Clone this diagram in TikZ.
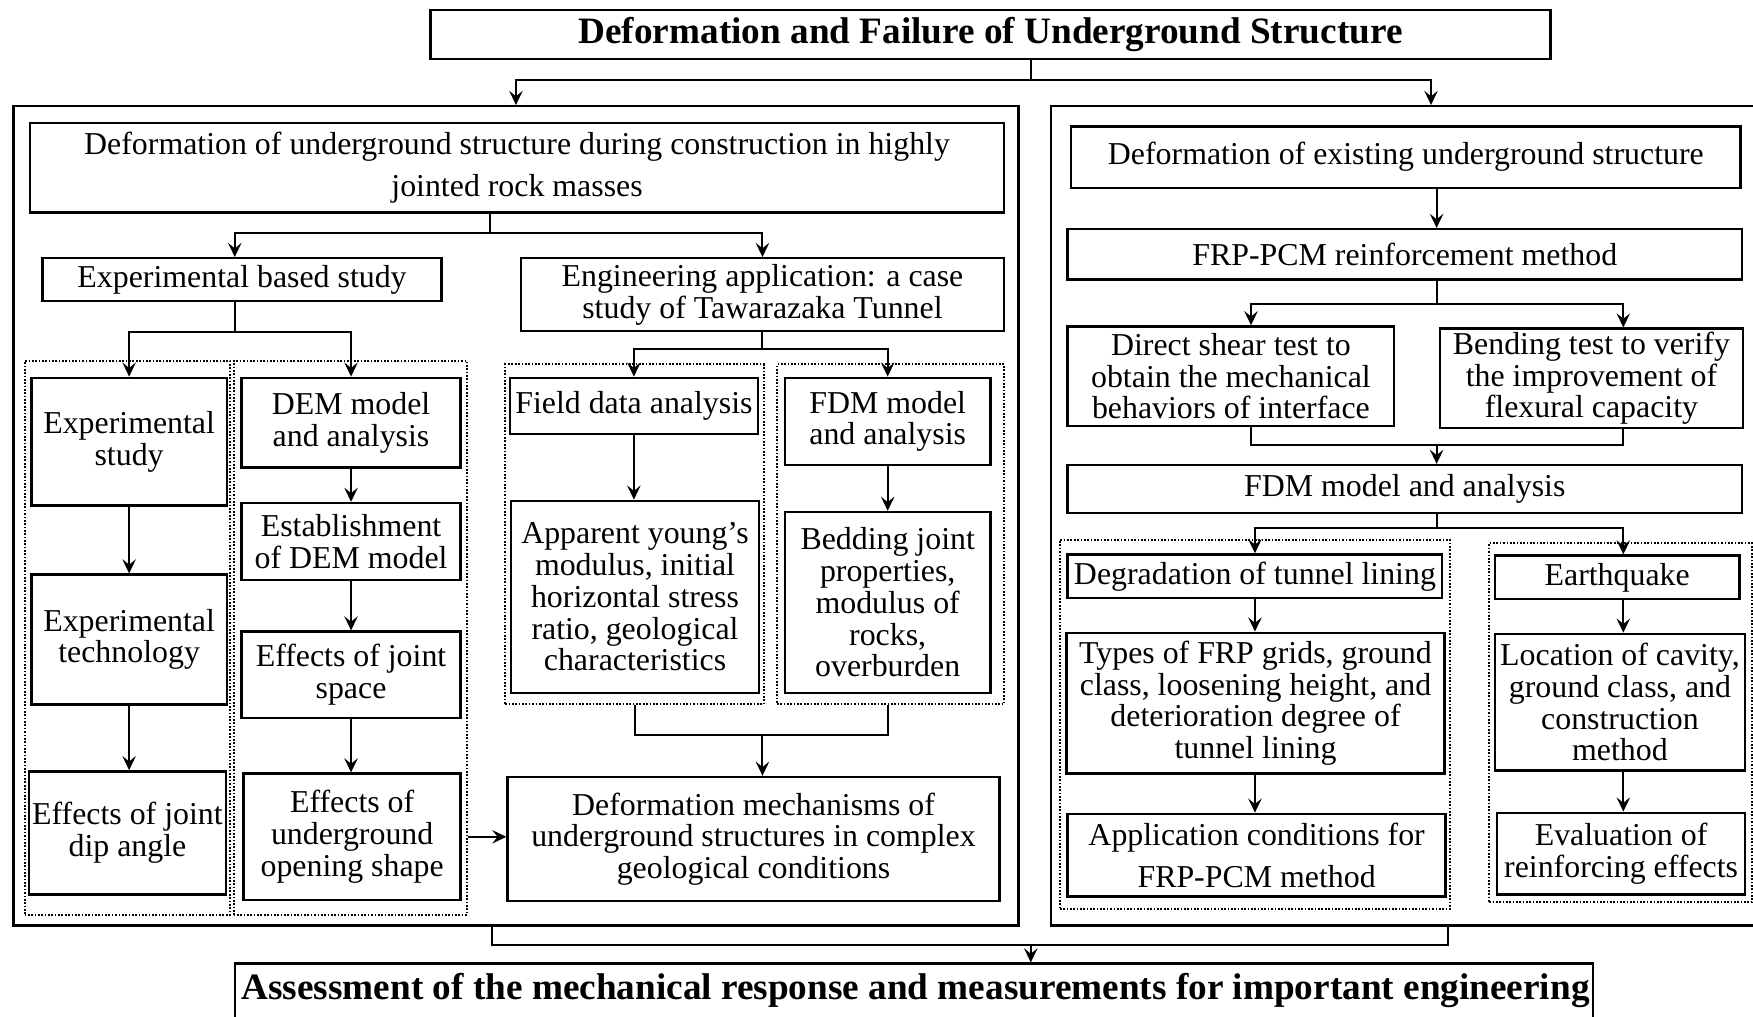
\documentclass[tikz,border=0pt]{standalone}
\usepackage{fontspec}
\setmainfont{Liberation Serif}
\usetikzlibrary{arrows.meta}

\newcommand{\bodyfont}{\fontsize{14.25}{14.2}\selectfont}
\newcommand{\loosefont}{\fontsize{14.25}{19}\selectfont}
\newcommand{\headfont}{\fontsize{16.65}{19}\selectfont\bfseries}

\tikzset{
  wh/.style 2 args={minimum width=#1*0.5pt, minimum height=#2*0.5pt},
  box/.style={draw, line width=1.1pt, inner sep=0pt, align=center, font=\bodyfont},
  headbox/.style={box, font=\headfont},
  panel/.style={draw, line width=1.1pt, inner sep=0pt},
  dotgroup/.style={draw, line width=0.9pt, dash pattern=on 0.75pt off 0.75pt, inner sep=0pt},
  link/.style={line width=0.9pt},
  flow/.style={link, -{Stealth[length=6.3pt,width=6pt,inset=2.4pt]}},
}

\begin{document}
\begin{tikzpicture}[x=0.5pt,y=0.5pt,yscale=-1]
    \useasboundingbox (0,0) rectangle (1568,909);

    % Title and the two panels
    \node[headbox, wh={1002}{44}] (title) at (886,31) {Deformation and Failure of Underground Structure};
    \node[panel, wh={899}{733}] (leftp) at (461.5,461.5) {};
    \node[panel, wh={680}{733}] (rightp) at (1280,461.5) {};

    % Left panel
    \node[box, font=\loosefont, wh={871}{80}] (dcon) at (462.5,150) {Deformation of underground structure during construction in highly\\jointed rock masses};
    \node[box, wh={357}{38}] (expb) at (216.5,250) {Experimental based study};
    \node[box, wh={432}{65}] (engapp) at (682,263.5) {Engineering application: a case\\study of Tawarazaka Tunnel};

    % dotted groups
    \node[dotgroup, wh={184}{495}] (grp1) at (114,570.5) {};
    \node[dotgroup, wh={209}{495}] (grp2) at (313.5,570.5) {};
    \node[dotgroup, wh={231}{304}] (grp3) at (567.5,478) {};
    \node[dotgroup, wh={203}{304}] (grp4) at (796.5,478) {};

    \node[box, wh={175}{114}] (expst) at (115.5,395) {Experimental\\study};
    \node[box, wh={175}{116}] (exptec) at (115.5,572) {Experimental\\technology};
    \node[box, wh={176}{110}] (dipang) at (114,745) {Effects of joint\\dip angle};

    \node[box, wh={196}{80}] (demmod) at (314,378) {DEM model\\and analysis};
    \node[box, wh={196}{69}] (demest) at (314,484.5) {Establishment\\of DEM model};
    \node[box, wh={196}{77}] (jspace) at (314,603.5) {Effects of joint\\space};
    \node[box, wh={194}{113}] (opening) at (315,748.5) {Effects of\\underground\\opening shape};

    \node[box, wh={222}{50}] (field) at (567,363) {Field data analysis};
    \node[box, wh={222}{172}] (appar) at (568,534) {Apparent young’s\\modulus, initial\\horizontal stress\\ratio, geological\\characteristics};
    \node[box, wh={184}{78}] (fdml) at (794,377) {FDM model\\and analysis};
    \node[box, wh={184}{162}] (bedd) at (794,539) {Bedding joint\\properties,\\modulus of\\rocks,\\overburden};
    \node[box, wh={440}{111}] (defmech) at (674,750.5) {Deformation mechanisms of\\underground structures in complex\\geological conditions};

    % Right panel
    \node[box, wh={599}{55}] (dexist) at (1257.5,140.5) {Deformation of existing underground structure};
    \node[box, wh={603}{45}] (frp) at (1256.5,227.5) {FRP-PCM reinforcement method};
    \node[box, wh={292}{89}] (dshear) at (1101,336.5) {Direct shear test to\\obtain the mechanical\\behaviors of interface};
    \node[box, wh={271}{89}] (bend) at (1423.5,338.5) {Bending test to verify\\the improvement of\\flexural capacity};
    \node[box, wh={603}{43}] (fdmr) at (1256.5,437.5) {FDM model and analysis};

    \node[dotgroup, wh={349}{330}] (grp5) at (1122.5,648) {};
    \node[dotgroup, wh={235}{321}] (grp6) at (1449.5,646.5) {};

    \node[box, wh={335}{39}] (degr) at (1122.5,515.5) {Degradation of tunnel lining};
    \node[box, wh={338}{126}] (types) at (1123,629) {Types of FRP grids, ground\\class, loosening height, and\\deterioration degree of\\tunnel lining};
    \node[box, font=\loosefont, wh={338}{74}] (appcon) at (1124,765) {Application conditions for\\FRP-PCM method};
    \node[box, wh={219}{39}] (quake) at (1446.5,516.5) {Earthquake};
    \node[box, wh={224}{122}] (locat) at (1449,628) {Location of cavity,\\ground class, and\\construction\\method};
    \node[box, wh={222}{73}] (evalu) at (1450,763.5) {Evaluation of\\reinforcing effects};

    % Bottom box
    \node[panel, wh={1215}{68}] (assess) at (817.5,896) {};
    \node[font=\headfont, inner sep=0pt] (assesstext) at (819,886) {Assessment of the mechanical response and measurements for important engineering};

    % junctions
    \coordinate (jT) at (922,72);
    \coordinate (jA) at (438,208);
    \coordinate (jB) at (210,297);
    \coordinate (jC) at (682,312);
    \coordinate (jD) at (682,657);
    \coordinate (jE) at (1285,272);
    \coordinate (jF) at (1119,398);
    \coordinate (jG) at (1452,398);
    \coordinate (jFG) at (1285,398);
    \coordinate (jH) at (1285,472);
    \coordinate (jL) at (440,845);
    \coordinate (jR) at (1295,845);
    \coordinate (jM) at (922,845);

    % connectors, top
    \draw[link] (title.south -| jT) -- (jT);
    \draw[flow] (jT) -| (leftp.north);
    \draw[flow] (jT) -| (rightp.north);

    % connectors, left panel
    \draw[link] (dcon.south -| jA) -- (jA);
    \draw[flow] (jA) -| (expb.north -| jB);
    \draw[flow] (jA) -| (engapp.north);
    \draw[link] (expb.south -| jB) -- (jB);
    \draw[flow] (jB) -| (expst.north);
    \draw[flow] (jB) -| (demmod.north);
    \draw[flow] (expst.south) -- (expst.south |- exptec.north);
    \draw[flow] (exptec.south) -- (exptec.south |- dipang.north);
    \draw[flow] (demmod.south) -- (demmod.south |- demest.north);
    \draw[flow] (demest.south) -- (demest.south |- jspace.north);
    \draw[flow] (jspace.south) -- (jspace.south |- opening.north);
    \draw[flow] (opening -| grp2.east) -- (opening -| defmech.west);

    \draw[link] (engapp.south -| jC) -- (jC);
    \draw[flow] (jC) -| (field.north);
    \draw[flow] (jC) -| (fdml.north);
    \draw[flow] (field.south) -- (field.south |- appar.north);
    \draw[flow] (fdml.south) -- (fdml.south |- bedd.north);
    \draw[link] (grp3.south -| appar) |- (jD) -| (grp4.south -| bedd);
    \draw[flow] (jD) -- (jD |- defmech.north);

    % connectors, right panel
    \draw[flow] (dexist.south -| jE) -- (frp.north -| jE);
    \draw[link] (frp.south -| jE) -- (jE);
    \draw[flow] (jE) -| (dshear.north -| jF);
    \draw[flow] (jE) -| (bend.north -| jG);
    \draw[link] (dshear.south -| jF) -- (jF) -- (jG) -- (bend.south -| jG);
    \draw[flow] (jFG) -- (fdmr.north -| jFG);
    \draw[link] (fdmr.south -| jH) -- (jH);
    \draw[flow] (jH) -| (degr.north);
    \draw[flow] (jH) -| (quake.north -| jG);
    \draw[flow] (degr.south) -- (degr.south |- types.north);
    \draw[flow] (types.south -| degr) -- (appcon.north -| degr);
    \draw[flow] (quake.south -| jG) -- (locat.north -| jG);
    \draw[flow] (locat.south -| jG) -- (evalu.north -| jG);

    % connectors, bottom
    \draw[link] (leftp.south -| jL) -- (jL) -- (jR) -- (rightp.south -| jR);
    \draw[flow] (jM) -- (assess.north -| jM);

\end{tikzpicture}
\end{document}
